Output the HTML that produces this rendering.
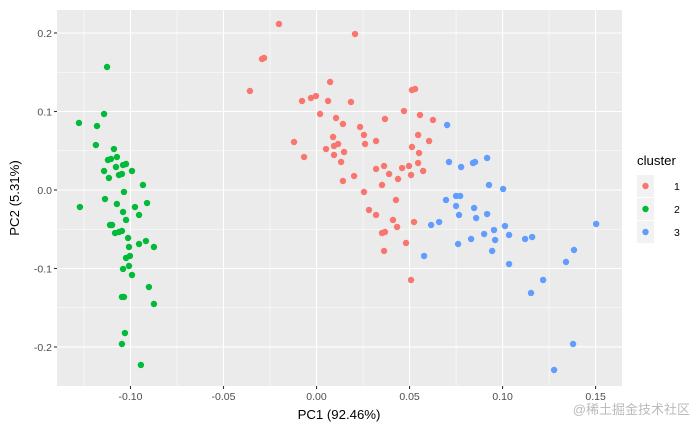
<!DOCTYPE html>
<html><head><meta charset="utf-8"><style>
body{margin:0;background:#fff;}
svg{display:block;font-family:"Liberation Sans",Arial,sans-serif;}
</style></head><body>
<svg id="chart" width="700" height="432" viewBox="0 0 700 432" xmlns="http://www.w3.org/2000/svg">
<rect x="57" y="10" width="565" height="376" fill="#EBEBEB"/>
<g id="grid"></g>
<g id="points"></g>
<g id="axes"></g>
<text x="339" y="419" font-size="13.2" text-anchor="middle" fill="#000">PC1 (92.46%)</text>
<text transform="translate(19,198) rotate(-90)" font-size="13.2" text-anchor="middle" fill="#000">PC2 (5.31%)</text>
<g>
<text x="637" y="165" font-size="13.2" fill="#000">cluster</text>
<g id="legend-keys"></g>
</g>
<text x="690" y="414" font-size="13" text-anchor="end" fill="#bbb" font-family="'Liberation Sans','Noto Sans CJK SC',sans-serif">@稀土掘金技术社区</text>
</svg>
<script>
const clusterNames = ["1","2","3"];
const clusterColors = ["#F8766D","#00BA38","#619CFF"];
const xTicks = [-0.10,-0.05,0.00,0.05,0.10,0.15];
const xTickLabels = ["-0.10","-0.05","0.00","0.05","0.10","0.15"];
const yTicks = [-0.2,-0.1,0.0,0.1,0.2];
const yTickLabels = ["-0.2","-0.1","0.0","0.1","0.2"];
const c1x = [-0.0202,0.0207,-0.0293,-0.0282,-0.0358,0.0073,-0.0078,-0.0030,-0.0003,0.0062,0.0185,0.0513,0.0530,0.0019,0.0105,0.0142,0.0368,0.0470,0.0556,0.0626,0.0234,0.0255,0.0261,0.0320,-0.0121,-0.0067,0.0089,0.0051,0.0094,0.0116,0.0148,0.0094,0.0132,0.0142,0.0202,0.0320,0.0363,0.0390,0.0352,0.0438,0.0460,0.0497,0.0508,0.0546,0.0573,0.0546,0.0605,0.0513,0.0551,0.0255,0.0427,0.0282,0.0320,0.0411,0.0433,0.0524,0.0352,0.0368,0.0481,0.0363,0.0508];
const c1y = [0.2115,0.1987,0.1669,0.1682,0.1261,0.1376,0.1134,0.1172,0.1197,0.1134,0.1121,0.1274,0.1287,0.0968,0.0917,0.0841,0.0905,0.1006,0.0955,0.0892,0.0803,0.0701,0.0586,0.0624,0.0612,0.0420,0.0675,0.0522,0.0561,0.0586,0.0484,0.0446,0.0357,0.0115,0.0178,0.0268,0.0306,0.0204,0.0064,0.0140,0.0280,0.0306,0.0191,0.0344,0.0242,0.0701,0.0624,0.0548,0.0471,-0.0025,-0.0127,-0.0255,-0.0318,-0.0382,-0.0471,-0.0408,-0.0548,-0.0535,-0.0675,-0.0777,-0.1146];
const c2x = [-0.1126,-0.1142,-0.1277,-0.1180,-0.1186,-0.1089,-0.1121,-0.1105,-0.1073,-0.1142,-0.1078,-0.1040,-0.1024,-0.0992,-0.1116,-0.1062,-0.1046,-0.0933,-0.1035,-0.1137,-0.1272,-0.1073,-0.0911,-0.0976,-0.1040,-0.0954,-0.1024,-0.1110,-0.1099,-0.1083,-0.1062,-0.1046,-0.1013,-0.1008,-0.0954,-0.0917,-0.0874,-0.1024,-0.1003,-0.1008,-0.1040,-0.0992,-0.0901,-0.1046,-0.1035,-0.0874,-0.1030,-0.1046,-0.0944];
const c2y = [0.1567,0.0968,0.0854,0.0815,0.0573,0.0522,0.0382,0.0395,0.0420,0.0242,0.0293,0.0318,0.0331,0.0242,0.0153,0.0191,0.0204,0.0064,-0.0025,-0.0115,-0.0217,-0.0178,-0.0166,-0.0217,-0.0280,-0.0318,-0.0382,-0.0446,-0.0446,-0.0548,-0.0535,-0.0522,-0.0611,-0.0726,-0.0688,-0.0650,-0.0726,-0.0866,-0.0841,-0.0968,-0.1006,-0.1083,-0.1236,-0.1363,-0.1363,-0.1452,-0.1822,-0.1962,-0.2229];
const c3x = [0.0702,0.0712,0.0777,0.0841,0.0852,0.0917,0.0927,0.1003,0.0696,0.0750,0.0772,0.0750,0.0847,0.0766,0.0858,0.0917,0.0659,0.0616,0.1013,0.0954,0.0901,0.1035,0.0831,0.0960,0.1121,0.1159,0.0761,0.0944,0.0578,0.1035,0.1503,0.1384,0.1341,0.1218,0.1153,0.1379,0.1277];
const c3y = [0.0828,0.0357,0.0293,0.0344,0.0357,0.0408,0.0064,0.0013,-0.0127,-0.0076,-0.0076,-0.0204,-0.0229,-0.0318,-0.0357,-0.0306,-0.0408,-0.0446,-0.0459,-0.0510,-0.0561,-0.0573,-0.0624,-0.0637,-0.0624,-0.0599,-0.0688,-0.0777,-0.0841,-0.0943,-0.0433,-0.0764,-0.0917,-0.1146,-0.1312,-0.1962,-0.2293];

const NS="http://www.w3.org/2000/svg";
const PL=57,PR=622,PT=10,PB=386;
const X0=-0.1395,X1=0.1642,Y0=-0.2497,Y1=0.2293;
function sx(v){return PL+(v-X0)/(X1-X0)*(PR-PL);}
function sy(v){return PB-(v-Y0)/(Y1-Y0)*(PB-PT);}
function mk(tag,attrs,parent){const e=document.createElementNS(NS,tag);for(const k in attrs)e.setAttribute(k,attrs[k]);parent.appendChild(e);return e;}
const grid=document.getElementById('grid'),axes=document.getElementById('axes'),pts=document.getElementById('points');
const minorX=[-0.125,-0.075,-0.025,0.025,0.075,0.125];
minorX.forEach(m=>{const l=mk('line',{x1:sx(m),x2:sx(m),y1:PT,y2:PB,stroke:'#fff','stroke-width':0.55},grid);

});
const minorY=[-0.15,-0.05,0.05,0.15];
minorY.forEach(m=>{const l=mk('line',{x1:PL,x2:PR,y1:sy(m),y2:sy(m),stroke:'#fff','stroke-width':0.55},grid);

});
xTicks.forEach((t,i)=>{const x=sx(t);
const l=mk('line',{x1:x,x2:x,y1:PT,y2:PB,stroke:'#fff','stroke-width':1.1},grid);


const tk=mk('line',{x1:x,x2:x,y1:PB,y2:PB+3,stroke:'#333','stroke-width':1.1},axes);


const tx=mk('text',{x:x,y:PB+14,'font-size':10.5,'text-anchor':'middle',fill:'#4D4D4D'},axes);tx.textContent=xTickLabels[i];

});
yTicks.forEach((t,i)=>{const y=sy(t);
const l=mk('line',{x1:PL,x2:PR,y1:y,y2:y,stroke:'#fff','stroke-width':1.1},grid);


const tk=mk('line',{x1:PL-3,x2:PL,y1:y,y2:y,stroke:'#333','stroke-width':1.1},axes);


const tx=mk('text',{x:PL-5,y:y+3.8,'font-size':10.5,'text-anchor':'end',fill:'#4D4D4D'},axes);tx.textContent=yTickLabels[i];

});
const series=[[c1x,c1y],[c2x,c2y],[c3x,c3y]];
series.forEach((s,ci)=>{for(let i=0;i<s[0].length;i++){
const c=mk('circle',{cx:sx(s[0][i]),cy:sy(s[1][i]),r:3.2,fill:clusterColors[ci]},pts);

}});
const lg=document.getElementById('legend-keys');
clusterNames.forEach((n,i)=>{const y=186+i*23;
const bg=mk('rect',{x:637,y:y-11,width:17,height:22,fill:'#F2F2F2'},lg);


const c=mk('circle',{cx:645.5,cy:y,r:3.2,fill:clusterColors[i]},lg);


const t=mk('text',{x:674,y:y+4,'font-size':10.5,fill:'#000'},lg);t.textContent=n;

});
</script>
</body></html>
